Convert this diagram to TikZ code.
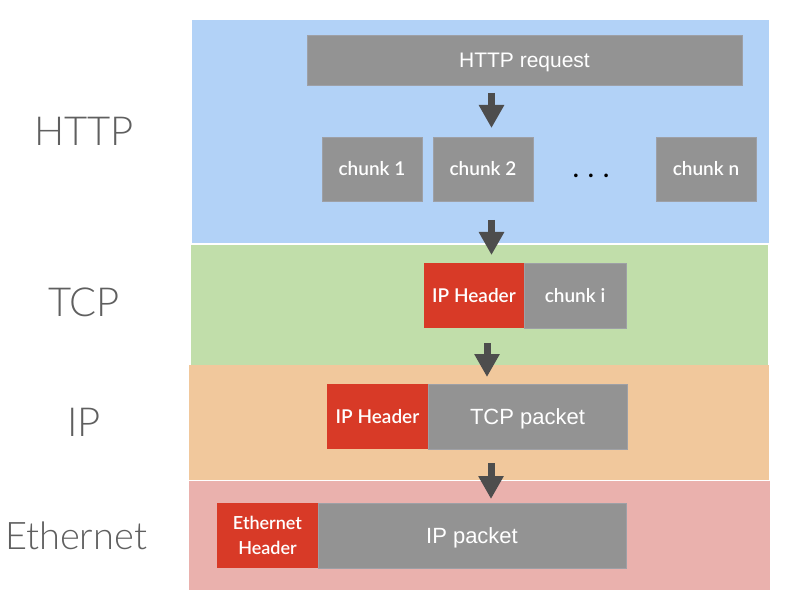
\documentclass[tikz,border=0pt]{standalone}
\usepackage{fontspec}
\setmainfont{Lato}
\newfontfamily\lightfont{Lato Light}
\newfontfamily\semifont{Lato Semibold}
\newfontfamily\arialfont{Liberation Sans}
\usetikzlibrary{arrows.meta}
\definecolor{bandblue}{RGB}{178,210,247}
\definecolor{bandgreen}{RGB}{193,222,170}
\definecolor{bandorange}{RGB}{241,200,156}
\definecolor{bandpink}{RGB}{234,177,173}
\definecolor{boxgray}{RGB}{147,147,147}
\definecolor{boxedge}{RGB}{158,160,166}
\definecolor{hdrred}{RGB}{216,58,39}
\definecolor{arrowgray}{RGB}{77,77,77}
\definecolor{labelgray}{RGB}{95,95,95}
\tikzset{
  band/.style={fill=#1, draw=none},
  graybox/.style={fill=boxgray, draw=boxedge, line width=0.6pt, text=white, inner sep=0pt, align=center},
  redbox/.style={fill=hdrred, draw=none, text=white, inner sep=0pt, align=center},
  gillsmall/.style={font=\semifont\fontsize{19}{23}\selectfont, text height=13.7pt, text depth=0pt},
  arialtext/.style={font=\arialfont\fontsize{#1}{26}\selectfont, text height=0.716*#1pt, text depth=0pt},
  layerlabel/.style={text=labelgray, font=\lightfont\fontsize{40}{44}\selectfont},
  flowarrow/.style={draw=arrowgray, line width=7pt, -{Triangle[width=24pt,length=23pt]}}
}
\begin{document}
\begin{tikzpicture}[x=1pt,y=-1pt]
\useasboundingbox (0,0) rectangle (798,604);
% bands
\fill[band=bandblue] (192,20) rectangle (769,243);
\fill[band=bandgreen] (191,245) rectangle (768,365);
\fill[band=bandorange] (189,365) rectangle (769,480);
\fill[band=bandpink] (189,481) rectangle (770,590);
% layer labels
\node[layerlabel] (lhttp) at (84,131) {HTTP};
\node[layerlabel] (ltcp) at (84,302) {TCP};
\node[layerlabel] (lip) at (84,422) {IP};
\node[layerlabel, font=\lightfont\fontsize{38}{44}\selectfont] (leth) at (76,536) {Ethernet};
% HTTP layer
\node[graybox, arialtext=21, minimum width=435pt, minimum height=50pt] (req) at (524.5,60) {HTTP request};
\node[graybox, gillsmall, minimum width=100pt, minimum height=64pt] (c1) at (372,169) {chunk 1};
\node[graybox, gillsmall, minimum width=100pt, minimum height=64pt] (c2) at (483,169) {chunk 2};
\node[font=\semifont\fontsize{26}{30}\selectfont, anchor=base] (dots) at (591,178) {.\hspace{9pt}.\hspace{9pt}.};
\node[graybox, gillsmall, minimum width=100pt, minimum height=64pt] (cn) at (706,169) {chunk n};
% TCP layer
\node[redbox, gillsmall, minimum width=100pt, minimum height=65pt] (tcph) at (474,295.5) {IP Header};
\node[graybox, gillsmall, minimum width=102pt, minimum height=65pt] (ci) at (575,295.5) {chunk i};
% IP layer
\node[redbox, gillsmall, minimum width=101pt, minimum height=65pt] (iph) at (377.5,416.5) {IP Header};
\node[graybox, arialtext=22, minimum width=199pt, minimum height=65pt] (tcpp) at (527.5,416.5) {TCP packet};
% Ethernet layer
\node[redbox, font=\semifont\fontsize{18}{24.5}\selectfont, minimum width=101pt, minimum height=65pt] (ethh) at (267.5,535.5) {Ethernet\\Header};
\node[graybox, arialtext=22, minimum width=308pt, minimum height=65pt] (ipp) at (472,535.5) {IP packet};
% arrows
\coordinate (a1s) at (491.5,93); \coordinate (a1e) at (491.5,128);
\coordinate (a2s) at (491.5,220); \coordinate (a2e) at (491.5,255);
\coordinate (a3s) at (487,343); \coordinate (a3e) at (487,377);
\coordinate (a4s) at (491,463); \coordinate (a4e) at (491,499);
\draw[flowarrow] (a1s) -- (a1e);
\draw[flowarrow] (a2s) -- (a2e);
\draw[flowarrow] (a3s) -- (a3e);
\draw[flowarrow] (a4s) -- (a4e);
\end{tikzpicture}
\end{document}
